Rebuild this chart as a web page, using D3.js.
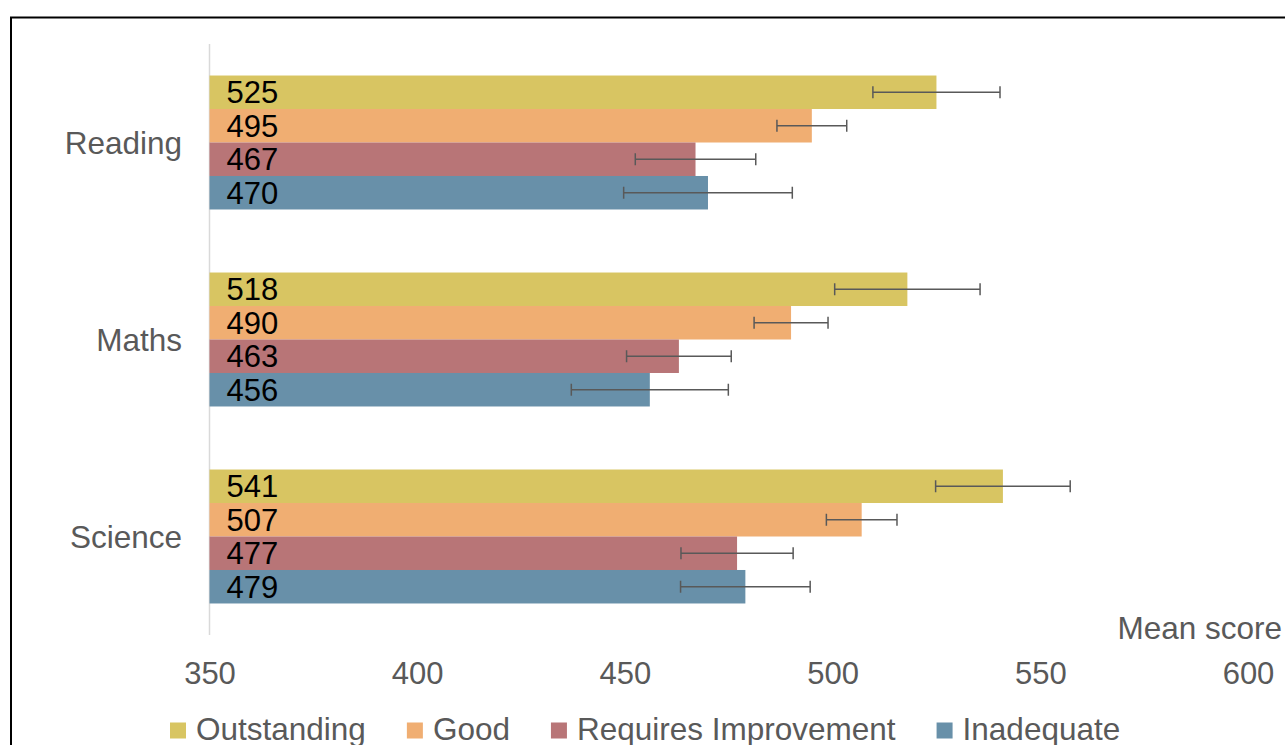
<!DOCTYPE html>
<html>
<head>
<meta charset="utf-8">
<script src="https://cdn.jsdelivr.net/npm/d3@7"></script>
<style>
  html, body { margin: 0; padding: 0; background: #fff; overflow: hidden; }
  svg { display: block; }
</style>
</head>
<body>
<svg id="chart" width="1285" height="745"></svg>
<script>
// ---- data ----
const subjects = ["Reading", "Maths", "Science"];
const series = ["Outstanding", "Good", "Requires Improvement", "Inadequate"];
const colors = ["#d8c562", "#f0ae72", "#b87577", "#6890a9"];
const outstanding = [525, 518, 541];
const good = [495, 490, 507];
const requiresImprovement = [467, 463, 477];
const inadequate = [470, 456, 479];
// half-width of the error bars (score points)
const errOutstanding = [15.3, 17.5, 16.2];
const errGood = [8.4, 8.9, 8.5];
const errRequires = [14.5, 12.6, 13.5];
const errInadequate = [20.3, 18.9, 15.6];
const xTicks = [350, 400, 450, 500, 550, 600];
const xTitle = "Mean score";

const values = [outstanding, good, requiresImprovement, inadequate];
const errors = [errOutstanding, errGood, errRequires, errInadequate];

const rows = [];
subjects.forEach((s, i) => {
  series.forEach((k, j) => {
    rows.push({ subject: s, key: k, value: values[j][i], err: errors[j][i], color: colors[j] });
  });
});

// ---- layout ----
const svg = d3.select("#chart");
const font = "'Liberation Sans', Arial, sans-serif";
const textGray = "#595959";

// outer frame
svg.append("rect")
  .attr("x", 11).attr("y", 17.5)
  .attr("width", 1400).attr("height", 900)
  .attr("fill", "#fff").attr("stroke", "#000").attr("stroke-width", 2);

const x = d3.scaleLinear().domain([350, 600]).range([209.5, 1248]);
const y0 = d3.scaleBand().domain(subjects).range([44, 635]).paddingInner(0.32).paddingOuter(0.16);
const y1 = d3.scaleBand().domain(series).range([0, y0.bandwidth()]);

// vertical axis line
svg.append("line")
  .attr("x1", x(350)).attr("x2", x(350))
  .attr("y1", 44).attr("y2", 635)
  .attr("stroke", "#d9d9d9").attr("stroke-width", 1.5);

// bars
const bars = svg.append("g");
bars.selectAll("rect").data(rows).join("rect")
  .attr("x", x(350))
  .attr("y", d => y0(d.subject) + y1(d.key))
  .attr("width", d => x(d.value) - x(350))
  .attr("height", y1.bandwidth())
  .attr("fill", d => d.color);

// value labels
bars.selectAll("text").data(rows).join("text")
  .attr("x", x(350) + 17)
  .attr("y", d => y0(d.subject) + y1(d.key) + y1.bandwidth() / 2)
  .attr("dy", "0.36em")
  .attr("font-family", font).attr("font-size", 31).attr("fill", "#000")
  .text(d => d.value);

// error bars
const eb = svg.append("g").attr("stroke", "#595959").attr("stroke-width", 1.5);
rows.forEach(d => {
  const cy = y0(d.subject) + y1(d.key) + y1.bandwidth() / 2;
  const xl = x(d.value - d.err), xr = x(d.value + d.err);
  eb.append("line").attr("x1", xl).attr("x2", xr).attr("y1", cy).attr("y2", cy);
  eb.append("line").attr("x1", xl).attr("x2", xl).attr("y1", cy - 6).attr("y2", cy + 6);
  eb.append("line").attr("x1", xr).attr("x2", xr).attr("y1", cy - 6).attr("y2", cy + 6);
});

// category labels
svg.append("g").selectAll("text").data(subjects).join("text")
  .attr("x", 182)
  .attr("y", d => y0(d) + y0.bandwidth() / 2)
  .attr("dy", "0.36em")
  .attr("text-anchor", "end")
  .attr("font-family", font).attr("font-size", 31.5).attr("fill", textGray)
  .text(d => d);

// x axis tick labels
const xAxis = d3.axisBottom(x).tickValues(xTicks).tickSize(0).tickPadding(0);
const gx = svg.append("g").attr("transform", "translate(0,662)").call(xAxis);
gx.select(".domain").remove();
gx.selectAll("text")
  .attr("font-family", font).attr("font-size", 31).attr("fill", textGray)
  .attr("dy", "0.71em").attr("y", 0);

// axis title
svg.append("text")
  .attr("x", 1282).attr("y", 627.5).attr("dy", "0.36em")
  .attr("text-anchor", "end")
  .attr("font-family", font).attr("font-size", 31.5).attr("fill", textGray)
  .text(xTitle);

// legend
const legend = svg.append("g");
let lx = 170;
series.forEach((s, j) => {
  legend.append("rect")
    .attr("x", lx).attr("y", 722.5).attr("width", 16).attr("height", 16)
    .attr("fill", colors[j]);
  const t = legend.append("text")
    .attr("x", lx + 26).attr("y", 729).attr("dy", "0.36em")
    .attr("font-family", font).attr("font-size", 31.5).attr("fill", textGray)
    .text(s);
  lx += 26 + t.node().getComputedTextLength() + 41;
});
</script>
</body>
</html>
